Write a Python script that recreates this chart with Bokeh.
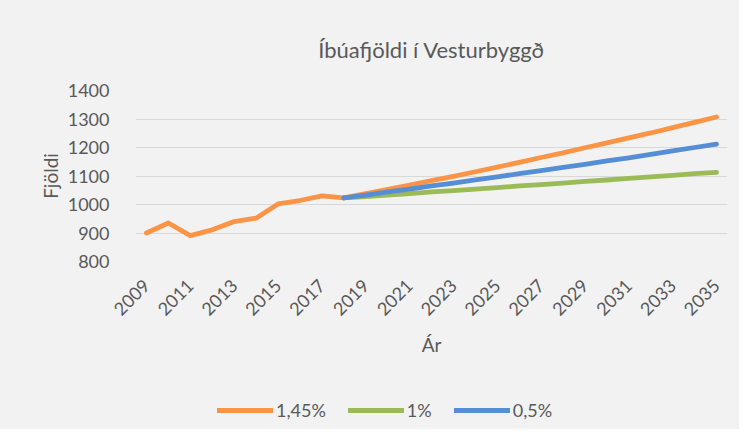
import math
from bokeh.plotting import figure
from bokeh.layouts import column
from bokeh.models import Legend, LegendItem, FixedTicker, Range1d
from bokeh.embed import file_html
from bokeh.resources import INLINE

# ---- data ----
hist_years = [2009, 2010, 2011, 2012, 2013, 2014, 2015, 2016, 2017, 2018]
hist_vals = [900, 935, 891, 911, 940, 952, 1002, 1014, 1030, 1023]

proj_years = [2018, 2019, 2020, 2021, 2022, 2023, 2024, 2025, 2026, 2027,
              2028, 2029, 2030, 2031, 2032, 2033, 2034, 2035]
orange_proj = [1023, 1038, 1053, 1068, 1084, 1099, 1115, 1131, 1148, 1165,
               1181, 1199, 1216, 1234, 1251, 1270, 1288, 1307]
green_proj = [1023, 1028, 1033, 1038, 1044, 1049, 1054, 1059, 1065, 1070,
              1075, 1081, 1086, 1092, 1097, 1102, 1108, 1113]
blue_proj = [1023, 1033, 1044, 1054, 1065, 1075, 1086, 1097, 1108, 1119,
             1130, 1141, 1153, 1164, 1176, 1188, 1200, 1212]

series_names = ["1,45%", "1%", "0,5%"]
series_colors = ["#FB9444", "#9BBB59", "#558ED5"]

x_ticks = list(range(2009, 2036, 2))
y_ticks = [800, 900, 1000, 1100, 1200, 1300, 1400]

title_text = "Íbúafjöldi í Vesturbyggð"
x_title = "Ár"
y_title = "Fjöldi"

FONT = "Lato"
TXT = "#595959"
BG = "#F2F2F2"

p = figure(width=739, height=385, output_backend="svg", toolbar_location=None,
           x_range=Range1d(2008.5, 2035.5), y_range=Range1d(800, 1400),
           min_border_left=135, min_border_right=12, min_border_top=90,
           min_border_bottom=124)
p.background_fill_color = BG
p.border_fill_color = BG
p.outline_line_color = None

p.title.text = title_text
p.title.align = "center"
p.title.text_font = FONT
p.title.text_font_size = "22px"
p.title.text_color = TXT
p.title.text_font_style = "normal"
p.title.standoff = 56

p.xgrid.grid_line_color = None
p.ygrid.grid_line_color = "#D9D9D9"
p.ygrid.grid_line_width = 1
p.ygrid.ticker = FixedTicker(ticks=y_ticks)

for ax in (p.xaxis[0], p.yaxis[0]):
    ax.axis_line_color = None
    ax.major_tick_line_color = None
    ax.minor_tick_line_color = None
    ax.major_label_text_font = FONT
    ax.major_label_text_font_size = "18px"
    ax.major_label_text_color = TXT
    ax.axis_label_text_font = FONT
    ax.axis_label_text_font_size = "19px"
    ax.axis_label_text_color = TXT
    ax.axis_label_text_font_style = "normal"

p.xaxis.ticker = FixedTicker(ticks=x_ticks)
p.xaxis.major_label_orientation = math.pi / 4
p.xaxis.major_label_standoff = 15
p.xaxis.axis_label = x_title
p.xaxis.axis_label_standoff = 9

p.yaxis.ticker = FixedTicker(ticks=y_ticks)
p.yaxis.major_label_standoff = 20
p.yaxis.axis_label = y_title
p.yaxis.axis_label_standoff = 3

lw = 4.8
p.line(hist_years, hist_vals, line_color=series_colors[0], line_width=lw,
       line_cap="round", line_join="round")
p.line(proj_years, orange_proj, line_color=series_colors[0], line_width=lw,
       line_cap="round", line_join="round")
p.line(proj_years, green_proj, line_color=series_colors[1], line_width=lw,
       line_cap="round", line_join="round")
p.line(proj_years, blue_proj, line_color=series_colors[2], line_width=lw,
       line_cap="round", line_join="round")

# ---- legend strip under the chart ----
lf = figure(width=739, height=44, output_backend="svg", toolbar_location=None,
            x_range=Range1d(0, 1), y_range=Range1d(0, 1),
            x_axis_type=None, y_axis_type=None,
            min_border_left=135, min_border_right=12,
            min_border_top=0, min_border_bottom=0)
lf.background_fill_color = BG
lf.border_fill_color = BG
lf.outline_line_color = None
lf.grid.visible = False

items = []
for name, col in zip(series_names, series_colors):
    # keys only: points lie outside the visible range
    r = lf.line([-3, -2], [-3, -2], line_color=col, line_width=5, line_cap="round")
    items.append(LegendItem(label=name, renderers=[r]))

legend = Legend(items=items, orientation="horizontal", location=(82, 8),
                background_fill_alpha=0, border_line_color=None,
                label_text_font=FONT, label_text_font_size="18px", label_text_color=TXT,
                glyph_width=56, glyph_height=20, label_standoff=3, spacing=22,
                padding=0, margin=0)
lf.add_layout(legend, "center")

layout = column(p, lf, spacing=0, styles={"background-color": BG})
open("out.html", "w").write(file_html(layout, INLINE))
